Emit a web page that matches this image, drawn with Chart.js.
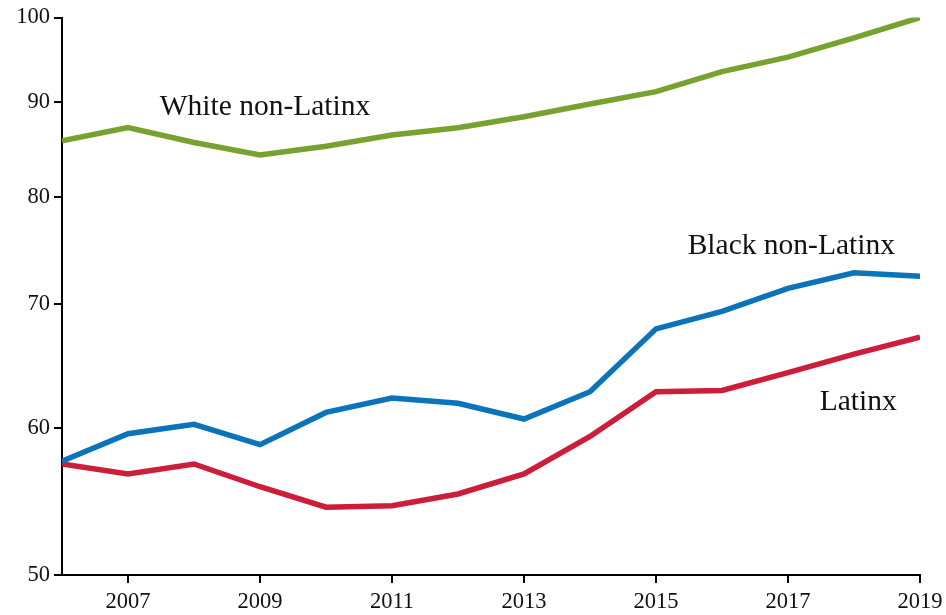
<!DOCTYPE html>
<html>
<head>
<meta charset="utf-8">
<script src="https://cdn.jsdelivr.net/npm/chart.js@4"></script>
<style>
  html, body { margin: 0; padding: 0; background: #fff; }
  #wrap { width: 946px; height: 615px; }
</style>
</head>
<body>
<div id="wrap"><canvas id="chart"></canvas></div>
<script>
// data (log scale, 50 - 100)
const years = [2006, 2007, 2008, 2009, 2010, 2011, 2012, 2013, 2014, 2015, 2016, 2017, 2018, 2019]
const white = [85.8, 87.2, 85.6, 84.3, 85.2, 86.4, 87.2, 88.4, 89.8, 91.2, 93.5, 95.2, 97.5, 100]
const black = [57.6, 59.6, 60.3, 58.8, 61.2, 62.3, 61.9, 60.7, 62.8, 67.9, 69.4, 71.4, 72.8, 72.5]
const latinx = [57.4, 56.7, 57.4, 55.8, 54.4, 54.5, 55.3, 56.7, 59.4, 62.8, 62.9, 64.3, 65.8, 67.2]
const xTicks = [2007, 2009, 2011, 2013, 2015, 2017, 2019]
const yTicks = [50, 60, 70, 80, 90, 100]

// series labels, placed in data coordinates (left edge year, value)
const seriesLabels = [
  { text: 'White non-Latinx', x: 2007.48, y: 89.4 },
  { text: 'Black non-Latinx', x: 2015.48, y: 75.2 },
  { text: 'Latinx', x: 2017.48, y: 62.0 }
]

const serif = "'Liberation Serif', 'DejaVu Serif', serif"

function pts(vals) {
  return years.map((y, i) => ({ x: y, y: vals[i] }))
}

const labelPlugin = {
  id: 'seriesLabels',
  afterDatasetsDraw(chart) {
    const ctx = chart.ctx
    const xs = chart.scales.x, ys = chart.scales.y
    ctx.save()
    ctx.fillStyle = '#111'
    ctx.font = '29.5px ' + serif
    ctx.textAlign = 'left'
    ctx.textBaseline = 'middle'
    seriesLabels.forEach(l => {
      ctx.fillText(l.text, xs.getPixelForValue(l.x), ys.getPixelForValue(l.y))
    })
    ctx.restore()
  }
}

const line = (data, color) => ({
  data: pts(data),
  borderColor: color,
  borderWidth: 5.5,
  pointRadius: 0,
  tension: 0,
  fill: false
})

new Chart(document.getElementById('chart'), {
  type: 'line',
  data: {
    datasets: [
      line(white, '#78a22f'),
      line(black, '#0a73b9'),
      line(latinx, '#cc1d3a')
    ]
  },
  options: {
    responsive: true,
    maintainAspectRatio: false,
    animation: false,
    layout: { padding: { top: 17, right: 26, left: 0, bottom: 0 } },
    plugins: { legend: { display: false }, tooltip: { enabled: false } },
    scales: {
      x: {
        type: 'linear',
        min: 2006,
        max: 2019,
        afterBuildTicks: s => { s.ticks = xTicks.map(v => ({ value: v })) },
        afterFit: s => { s.height = 40; s.paddingRight = 0; s.paddingLeft = 0 },
        grid: { drawOnChartArea: false, drawTicks: true, tickLength: 8, color: '#000', lineWidth: 2 },
        border: { color: '#000', width: 2 },
        ticks: {
          color: '#111',
          font: { family: serif, size: 22.5 },
          padding: 6,
          maxRotation: 0,
          callback: v => String(v)
        }
      },
      y: {
        type: 'logarithmic',
        min: 50,
        max: 100,
        afterBuildTicks: s => { s.ticks = yTicks.map(v => ({ value: v })) },
        afterFit: s => { s.width = 62 },
        grid: { drawOnChartArea: false, drawTicks: true, tickLength: 8, color: '#000', lineWidth: 2 },
        border: { color: '#000', width: 2 },
        ticks: {
          color: '#111',
          font: { family: serif, size: 22.5 },
          padding: 4,
          callback: v => String(v)
        }
      }
    }
  },
  plugins: [labelPlugin]
})
</script>
</body>
</html>
